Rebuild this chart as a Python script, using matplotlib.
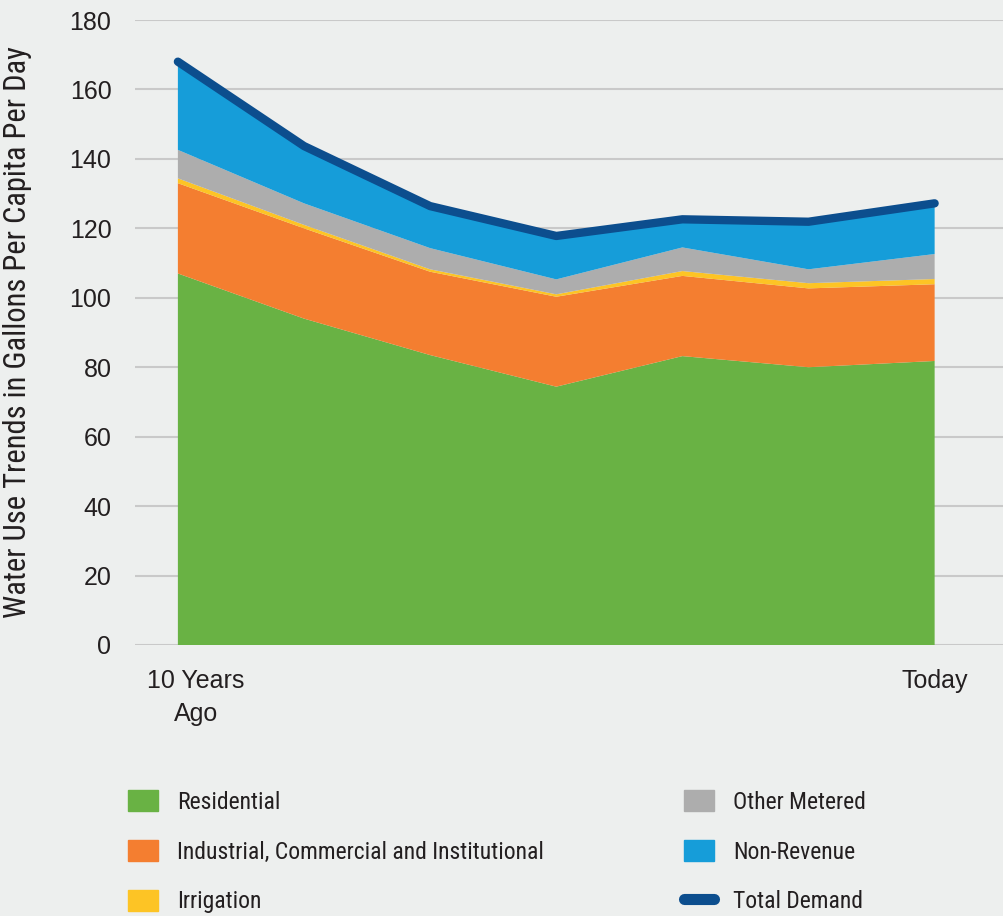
import numpy as np
import matplotlib
matplotlib.use("Agg")
import matplotlib.pyplot as plt
from matplotlib.lines import Line2D
from matplotlib.patches import Patch
import matplotlib.transforms as mtransforms

# valores (galones por persona por dia)
periodos = np.arange(7)
etiquetas_x = ["10 Years\nAgo", "Today"]
residencial = [107.0, 94.0, 83.5, 74.4, 83.2, 80.0, 81.8]
industrial = [26.0, 26.0, 24.0, 25.9, 23.1, 22.7, 22.1]
riego = [1.4, 1.0, 0.7, 0.7, 1.4, 1.5, 1.5]
otros = [8.2, 6.2, 6.1, 4.3, 6.8, 4.0, 7.2]
no_facturada = [25.4, 16.5, 12.1, 12.5, 8.1, 13.7, 14.6]
total = [168.0, 143.7, 126.4, 117.8, 122.6, 121.9, 127.2]

nombres = ["Residential", "Industrial, Commercial and Institutional", "Irrigation",
           "Other Metered", "Non-Revenue", "Total Demand"]
colores = ["#69b244", "#f47e30", "#fdc425", "#adadad", "#169dd9", "#0c4e8e"]

fondo = "#edefee"
texto = "#231f20"
narrow = ["Roboto Condensed", "Roboto", "DejaVu Sans"]

fig = plt.figure(figsize=(10.04, 9.16), dpi=100, facecolor=fondo)
ax = fig.add_axes([135 / 1004, 1 - 645 / 916, 1 - 135 / 1004, (645 - 20) / 916])
ax.set_facecolor(fondo)

ax.stackplot(periodos, residencial, industrial, riego, otros, no_facturada,
             colors=colores[:5], linewidth=0, zorder=2)
ax.plot(periodos, total, color=colores[5], linewidth=6, solid_capstyle="round",
        solid_joinstyle="round", zorder=3)

ax.set_ylim(0, 180)
ax.set_xlim(-0.34, 6.55)
ax.set_yticks(np.arange(0, 181, 20))
ax.grid(axis="y", color="#c9c9c9", linewidth=1.5, zorder=0)
ax.set_axisbelow(True)
for s in ax.spines.values():
    s.set_visible(False)
ax.tick_params(axis="y", length=0, pad=17, labelsize=18, labelcolor=texto)
ax.tick_params(axis="x", length=0, pad=17, labelsize=18, labelcolor=texto)
for lab in ax.get_yticklabels():
    lab.set_fontfamily("Liberation Sans")

ax.set_xticks([0, 6])
ax.set_xticklabels(etiquetas_x, fontfamily="Liberation Sans", linespacing=1.5)
primera = ax.get_xticklabels()[0]
primera.set_transform(primera.get_transform() +
                      mtransforms.ScaledTranslation(18 / 100, 0, fig.dpi_scale_trans))

ax.set_ylabel("Water Use Trends in Gallons Per Capita Per Day", fontsize=22,
              family=narrow, color=texto)
ax.yaxis.set_label_coords(-103 / 869, 0.5)

h1 = [Patch(color=c) for c in colores[:3]]
h2 = [Patch(color=c) for c in colores[3:5]] + [
    Line2D([0], [0], color=colores[5], linewidth=8, solid_capstyle="round")]
kw = dict(frameon=False, handlelength=1.27, handleheight=1.02,
          handletextpad=0.8, labelspacing=1.1, borderaxespad=0, borderpad=0,
          prop={"family": narrow, "size": 17})
leg1 = fig.legend(h1, nombres[:3], loc="upper left",
                  bbox_to_anchor=(128 / 1004, 1 - 790 / 916), **kw)
leg2 = fig.legend(h2, nombres[3:], loc="upper left",
                  bbox_to_anchor=(684 / 1004, 1 - 790 / 916), **kw)
for leg in (leg1, leg2):
    for t in leg.get_texts():
        t.set_color(texto)

fig.savefig("out.png", dpi=100, facecolor=fondo)
